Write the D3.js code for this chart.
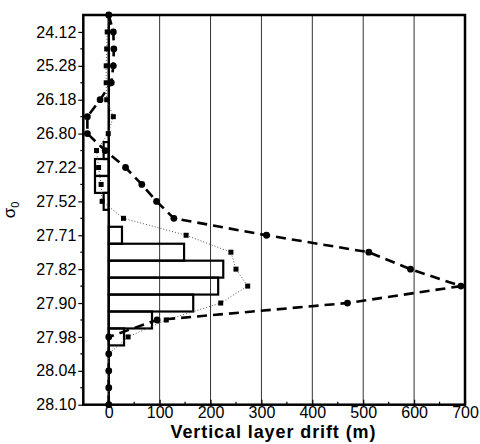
<!DOCTYPE html>
<html lang="en">
<head>
<meta charset="UTF-8">
<title>Vertical layer drift</title>
<script src="https://d3js.org/d3.v7.min.js"></script>
<style>
  body { margin: 0; background: #fff; font-family: "Liberation Sans", Arial, sans-serif; }
  svg { display: block; }
</style>
</head>
<body>
<svg width="480" height="444"></svg>
<script>
// sigma_0 layer labels (one per major row)
const yLabels = ["24.12", "25.28", "26.18", "26.80", "27.22", "27.52",
                 "27.71", "27.82", "27.90", "27.98", "28.04", "28.10"];
// row positions of the data points (half rows between labels)
const levels = [-0.5, 0, 0.5, 1, 1.5, 2, 2.5, 3, 3.5, 4, 4.5, 5, 5.5,
                6, 6.5, 7, 7.5, 8, 8.5, 9, 9.5, 10, 10.5, 11];
// dashed series with circles (m)
const driftCircles = [0, 9, 10, 9, 5, -17, -42, -42, -7, 33, 65, 94, 128,
                      310, 511, 593, 692, 469, 95, 0, 0, 0, 0, 0];
// dotted series with squares (m)
const driftSquares = [0, -3, -4, -5, -5, -4, 9, -1, -24, -20, -15, -13, 29,
                      152, 240, 250, 273, 220, 113, 38, 0, 0, 0, 0];
// histogram bars (m)
const driftBars = [0, 0, 0, 0, 0, 0, 0, 0, -10, -27, -27, -10, 0,
                   26, 148, 225, 215, 166, 85, 30, 0, 0, 0, 0];
const xTicks = [0, 100, 200, 300, 400, 500, 600, 700];
const xMinor = [-50, 50, 150, 250, 350, 450, 550, 650];

const svg = d3.select("svg");
const mLeft = 83.3, mRight = 465, mTop = 15, mBottom = 404.7;

const x = d3.scaleLinear().domain([-50, 700]).range([mLeft, mRight]);
const y = d3.scaleLinear().domain([-0.5, 11]).range([mTop, mBottom]);
const rowH = y(0.5) - y(0);

const pts = levels.map((l, i) => ({ l, c: driftCircles[i], s: driftSquares[i], b: driftBars[i] }));

// vertical grid lines
svg.append("g").selectAll("line")
  .data(xTicks.filter(d => d > 0 && d < 700))
  .join("line")
  .attr("x1", d => x(d)).attr("x2", d => x(d))
  .attr("y1", mTop).attr("y2", mBottom)
  .attr("stroke", "#333").attr("stroke-width", 1);

// histogram bars
svg.append("g").selectAll("rect")
  .data(pts.filter(d => d.b !== 0))
  .join("rect")
  .attr("x", d => Math.min(x(0), x(d.b)))
  .attr("width", d => Math.abs(x(d.b) - x(0)))
  .attr("y", d => y(d.l) - rowH / 2)
  .attr("height", rowH)
  .attr("fill", "none")
  .attr("stroke", "#000")
  .attr("stroke-width", 2.2);

// zero line
svg.append("line")
  .attr("x1", x(0)).attr("x2", x(0))
  .attr("y1", mTop).attr("y2", mBottom)
  .attr("stroke", "#000").attr("stroke-width", 2.5);

// dotted series
svg.append("path")
  .datum(pts)
  .attr("fill", "none")
  .attr("stroke", "#555")
  .attr("stroke-width", 1)
  .attr("stroke-dasharray", "1,2")
  .attr("d", d3.line().x(d => x(d.s)).y(d => y(d.l)));

svg.append("g").selectAll("rect")
  .data(pts)
  .join("rect")
  .attr("x", d => x(d.s) - 2.5)
  .attr("y", d => y(d.l) - 2.5)
  .attr("width", 5).attr("height", 5)
  .attr("fill", "#000");

// dashed series
svg.append("path")
  .datum(pts)
  .attr("fill", "none")
  .attr("stroke", "#000")
  .attr("stroke-width", 2.6)
  .attr("stroke-dasharray", "10,6")
  .attr("d", d3.line().x(d => x(d.c)).y(d => y(d.l)));

svg.append("g").selectAll("circle")
  .data(pts)
  .join("circle")
  .attr("cx", d => x(d.c))
  .attr("cy", d => y(d.l))
  .attr("r", 3.4)
  .attr("fill", "#000");

// frame
svg.append("rect")
  .attr("x", mLeft).attr("y", mTop)
  .attr("width", mRight - mLeft).attr("height", mBottom - mTop)
  .attr("fill", "none").attr("stroke", "#000").attr("stroke-width", 2.5);

// bottom axis
const xAxis = svg.append("g")
  .attr("transform", `translate(0,${mBottom})`)
  .call(d3.axisBottom(x).tickValues(xTicks).tickSize(-5).tickPadding(2).tickFormat(d3.format("d")));
xAxis.select(".domain").remove();
xAxis.selectAll("line").attr("stroke-width", 1.2);
xAxis.selectAll("text").attr("font-size", 16).attr("font-family", "Liberation Sans, Arial, sans-serif").attr("fill", "#000");
svg.append("g").selectAll("line")
  .data(xMinor.filter(d => d > -50))
  .join("line")
  .attr("x1", d => x(d)).attr("x2", d => x(d))
  .attr("y1", mBottom).attr("y2", mBottom - 3)
  .attr("stroke", "#000").attr("stroke-width", 1.2);

// left axis
const yAxis = svg.append("g")
  .attr("transform", `translate(${mLeft},0)`)
  .call(d3.axisLeft(y).tickValues(d3.range(yLabels.length)).tickSize(5).tickPadding(2)
    .tickFormat(i => yLabels[i]));
yAxis.select(".domain").remove();
yAxis.selectAll("line").attr("stroke-width", 1.2);
yAxis.selectAll("text").attr("font-size", 16).attr("font-family", "Liberation Sans, Arial, sans-serif").attr("fill", "#000");
svg.append("g").selectAll("line")
  .data(levels.filter(l => l % 1 !== 0 && l > 0))
  .join("line")
  .attr("x1", mLeft - 3).attr("x2", mLeft)
  .attr("y1", d => y(d)).attr("y2", d => y(d))
  .attr("stroke", "#000").attr("stroke-width", 1.2);

// axis titles
svg.append("text")
  .attr("x", 273).attr("y", 438)
  .attr("text-anchor", "middle")
  .attr("font-size", 18).attr("font-weight", "bold")
  .attr("textLength", 205).attr("lengthAdjust", "spacing")
  .text("Vertical layer drift  (m)");

const yt = svg.append("text")
  .attr("transform", "translate(15,210) rotate(-90)")
  .attr("text-anchor", "middle")
  .attr("font-size", 17);
yt.append("tspan").text("σ");
yt.append("tspan").attr("font-size", 11).attr("dy", 4).text("0");
</script>
</body>
</html>
